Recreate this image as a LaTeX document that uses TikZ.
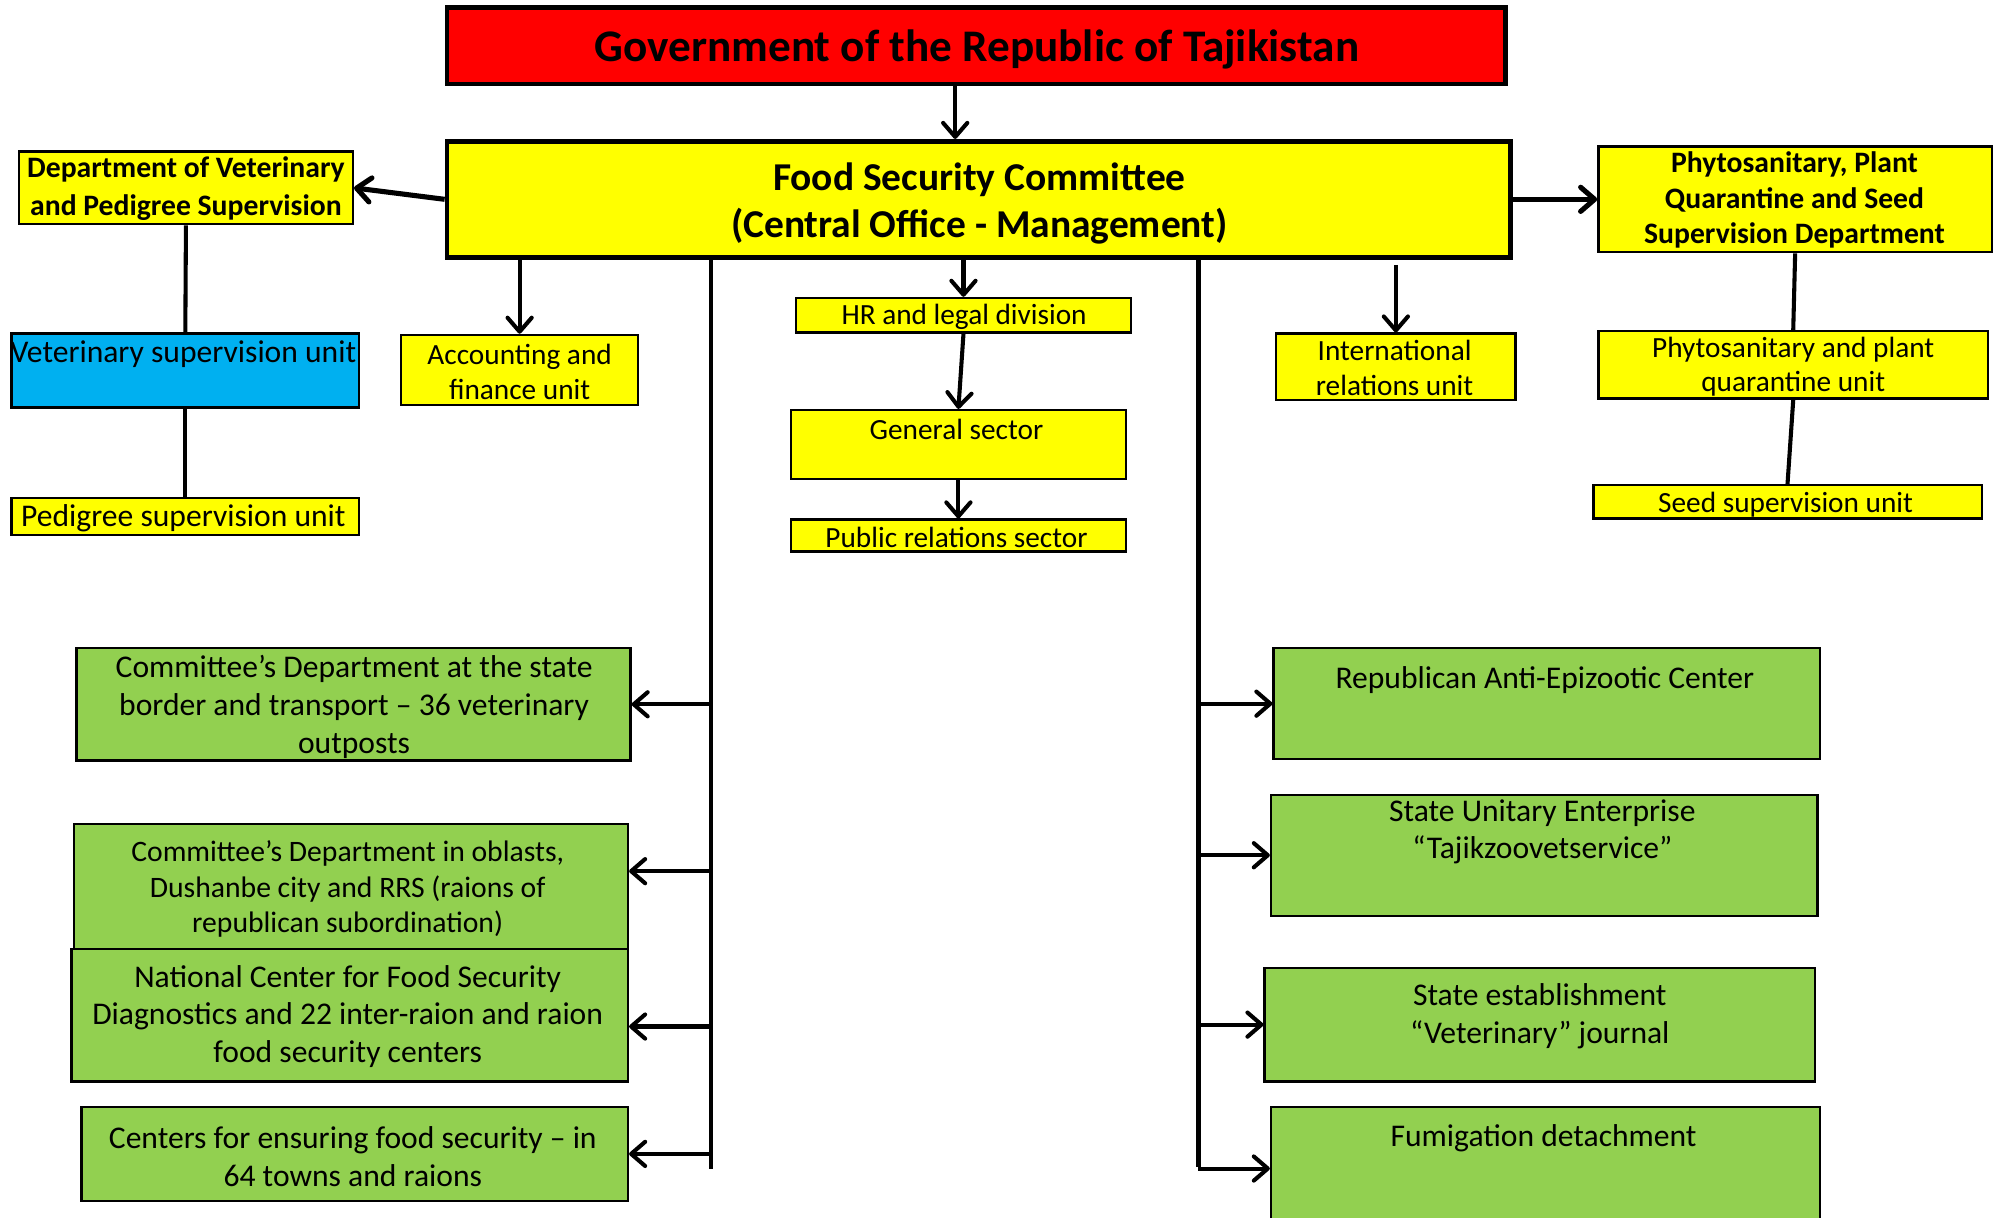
\documentclass[tikz,border=0pt]{standalone}
\usepackage{fontspec}
\setmainfont{Carlito}
\usetikzlibrary{arrows.meta,fit}
\definecolor{yel}{HTML}{FFFF00}
\definecolor{grn}{HTML}{92D050}
\definecolor{blu}{HTML}{00B0F0}
\definecolor{redb}{HTML}{FF0000}
\tikzset{
  bx/.style={draw=black, line width=1.9pt, inner sep=0pt},
  thickbx/.style={draw=black, line width=3.8pt, inner sep=0pt},
  txt/.style={align=center, inner sep=0pt},
  arr/.style={line width=3.2pt, -{Straight Barb[length=11pt,width=19pt,round]}},
  ln/.style={line width=3.2pt},
  ftitle/.style={font=\fontsize{35.5}{40}\selectfont\bfseries},
  ffsc/.style={font=\fontsize{31}{37}\selectfont\bfseries},
  fbold/.style={font=\fontsize{23.3}{29.5}\selectfont\bfseries},
  freg/.style={font=\fontsize{23}{27}\selectfont},
  fbig/.style={font=\fontsize{24.8}{27}\selectfont},
  fgrn/.style={font=\fontsize{24.8}{29.5}\selectfont},
}
\begin{document}
\begin{tikzpicture}[x=1pt,y=-1pt]
\useasboundingbox (0,0) rectangle (1568,956);
% boxes
\node[thickbx, fill=redb, fit={(351,6) (1182,66)}] (gov) {};
\node[thickbx, fill=yel, fit={(351,111) (1186,202)}] (fsc) {};
\node[bx, fill=yel, fit={(15,119) (277,176)}] (dv) {};
\node[bx, fill=blu, fit={(9,262) (282,320)}] (vu) {};
\node[bx, fill=yel, fit={(9,391) (282,420)}] (pu) {};
\node[bx, fill=yel, fit={(315,263) (501,318)}] (acc) {};
\node[bx, fill=yel, fit={(625,234) (888,261)}] (hr) {};
\node[bx, fill=yel, fit={(621,322) (884,376)}] (gen) {};
\node[bx, fill=yel, fit={(621,408) (884,433)}] (pr) {};
\node[bx, fill=yel, fit={(1002,262) (1190,314)}] (intl) {};
\node[bx, fill=yel, fit={(1255,115) (1564,198)}] (phd) {};
\node[bx, fill=yel, fit={(1255,260) (1561,313)}] (phu) {};
\node[bx, fill=yel, fit={(1251,381) (1556,407)}] (seed) {};
\node[bx, fill=grn, fit={(60,509) (495,597)}] (l1) {};
\node[bx, fill=grn, fit={(58,647) (493,745)}] (l2) {};
\node[bx, fill=grn, fit={(56,745) (493,849)}] (l3) {};
\node[bx, fill=grn, fit={(64,869) (493,943)}] (l4) {};
\node[bx, fill=grn, fit={(1000,509) (1429,596)}] (r1) {};
\node[bx, fill=grn, fit={(998,624) (1427,719)}] (r2) {};
\node[bx, fill=grn, fit={(993,760) (1425,849)}] (r3) {};
\node[bx, fill=grn, fit={(998,869) (1429,964)}] (r4) {};
% texts
\node[txt, ftitle] (gov-t) at (767,39) {Government of the Republic of Tajikistan};
\node[txt, ffsc] (fsc-t) at (769,160) {Food Security Committee\\(Central Office - Management)};
\node[txt, fbold] (dv-t) at (146,148) {Department of Veterinary\\and Pedigree Supervision};
\node[txt, fbig] (vu-t) at (144,278) {Veterinary supervision unit};
\node[txt, fbig] (pu-t) at (144,407) {Pedigree supervision unit};
\node[txt, freg] (acc-t) at (408,292) {Accounting and\\finance unit};
\node[txt, freg] (hr-t) at (757,249) {HR and legal division};
\node[txt, freg] (gen-t) at (751,337) {General sector};
\node[txt, freg] (pr-t) at (751,422) {Public relations sector};
\node[txt, freg] (intl-t) at (1095,289) {International\\relations unit};
\node[txt, fbold, font=\fontsize{23.3}{28}\selectfont\bfseries] (phd-t) at (1409,157) {Phytosanitary, Plant\\Quarantine and Seed\\Supervision Department};
\node[txt, freg] (phu-t) at (1408,288) {Phytosanitary and plant\\quarantine unit};
\node[txt, freg] (seed-t) at (1402,396) {Seed supervision unit};
\node[txt, fgrn] (l1-t) at (278,555) {Committee’s Department at the state\\border and transport – 36 veterinary\\outposts};
\node[txt, font=\fontsize{23.3}{28}\selectfont] (l2-t) at (273,698) {Committee’s Department in oblasts,\\Dushanbe city and RRS (raions of\\republican subordination)};
\node[txt, fgrn] (l3-t) at (273,798) {National Center for Food Security\\Diagnostics and 22 inter-raion and raion\\food security centers};
\node[txt, fgrn] (l4-t) at (277,908) {Centers for ensuring food security – in\\64 towns and raions};
\node[txt, fgrn] (r1-t) at (1213,534) {Republican Anti-Epizootic Center};
\node[txt, fgrn] (r2-t) at (1211,653) {State Unitary Enterprise\\“Tajikzoovetservice”};
\node[txt, fgrn] (r3-t) at (1209,798) {State establishment\\“Veterinary” journal};
\node[txt, fgrn] (r4-t) at (1212,894) {Fumigation detachment};
% connectors
\coordinate (gx) at (750,0);
\draw[arr] (gov.south -| gx) -- (fsc.north -| gx);
\draw[arr, line width=4pt] (fsc.west) -- (dv.east);
\draw[arr, line width=4pt] (fsc.east) -- (phd.west);
\draw[ln] (dv.south) -- (vu.north);
\draw[ln] (vu.south) -- (pu.north);
\draw[arr] (fsc.south -| acc) -- (acc.north);
\draw[arr] (fsc.south -| hr) -- (hr.north);
\draw[arr] (hr.south) -- (gen.north);
\draw[arr] (gen.south) -- (pr.north);
\draw[arr] ([yshift=-4pt]fsc.south -| intl) -- (intl.north);
\draw[ln] (phd.south) -- (phu.north);
\draw[ln] (phu.south) -- (seed.north);
% left trunk
\coordinate (lt) at (558,918);
\draw[ln] (fsc.south -| lt) -- (lt);
\draw[arr] (l1.east -| lt) -- (l1.east);
\draw[arr] ([yshift=12pt]l2.east -| lt) -- ([yshift=12pt]l2.east);
\draw[arr] ([yshift=-9pt]l3.east -| lt) -- ([yshift=-9pt]l3.east);
\draw[arr] (l4.east -| lt) -- (l4.east);
% right trunk
\coordinate (rt) at (941,916);
\draw[ln] (fsc.south -| rt) -- (rt);
\draw[arr] (r1.west -| rt) -- (r1.west);
\draw[arr] (r2.west -| rt) -- (r2.west);
\draw[arr] (r3.west -| rt) -- (r3.west);
\draw[arr] ([yshift=-1pt]r4.west -| rt) -- ([yshift=-1pt]r4.west);
\end{tikzpicture}
\end{document}
